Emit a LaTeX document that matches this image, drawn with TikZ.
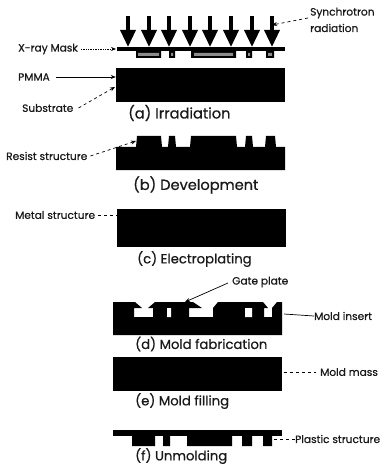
\documentclass[tikz,border=0pt]{standalone}
\usepackage{fontspec}
\setmainfont{Poppins}[BoldFont=Poppins,BoldFeatures={FakeBold=0.6}]
\usetikzlibrary{arrows.meta}
\tikzset{
  lab/.style={inner sep=0pt,font=\bfseries\fontsize{10.6}{12}\selectfont,text=black!90},
  capta/.style={inner sep=0pt,font=\bfseries\fontsize{14.6}{16}\selectfont,text=black!90,anchor=west},
  captb/.style={inner sep=0pt,font=\bfseries\fontsize{13.2}{15}\selectfont,text=black!90,anchor=west},
  solidpart/.style={fill=black,draw=none},
  lead/.style={line width=0.7pt,-{Stealth[length=5pt,width=4pt]}},
  plain/.style={line width=0.7pt},
  beam/.style={line width=3.4pt,-{Triangle[length=17pt,width=15pt]}},
}
\begin{document}
\begin{tikzpicture}[x=1pt,y=-1pt]
\useasboundingbox (0,0) rectangle (384,465);
% (a)
\foreach \i/\x in {1/128,2/149,3/169,4/190,5/210,6/231,7/252,8/272}{
  \coordinate (bs\i) at (\x,16);
  \coordinate (be\i) at (\x,47);
  \draw[beam] (bs\i) -- (be\i);
}
\fill[solidpart] (117,47) rectangle (285,51);
\fill[solidpart] (136,51) rectangle (161,58) (169,51) rectangle (175,58)
  (191,51) rectangle (236,58) (246,51) rectangle (252,58) (266,51) rectangle (274,58);
\fill[black!45] (138,53) rectangle (159,56) (171,53) rectangle (173,56)
  (194,53) rectangle (233,56) (248,53) rectangle (250,56) (268,53) rectangle (272,56);
\node[solidpart,minimum width=169pt,minimum height=34pt,inner sep=0pt] (pmma) at (200.5,85) {};
\node[lab,anchor=west] (mask) at (18,49) {X-ray Mask};
\coordinate (maskend) at (116,49);
\draw[lead,densely dotted] (mask.east) ++(3,0) -- (maskend);
\node[lab,anchor=west] (pm) at (18,77) {PMMA};
\draw[lead] (pm.east) ++(6,0) -- (pmma.west |- pm.east);
\node[lab,anchor=west] (sub) at (22,108) {Substrate};
\coordinate (subend) at (115,87);
\draw[lead,dashed] (sub.east) ++(5,0) -- (subend);
\node[lab,anchor=west] (syn) at (310,13) {Synchrotron};
\node[lab,anchor=west] (rad) at (310,28) {radiation};
\coordinate (synstart) at (308,18);
\coordinate (synend) at (272,25);
\draw[lead,dashed] (synstart) -- (synend);
\node[capta] (ca) at (128,113) {(a) Irradiation};
% (b)
\fill[solidpart] (116,170) -- (116,147) -- (136,147) -- (137,136) -- (161,136) -- (162,147)
  -- (168,147) -- (169,136) -- (175,136) -- (176,147) -- (190,147) -- (191,136) -- (236,136)
  -- (237,147) -- (245,147) -- (246,136) -- (252,136) -- (253,147) -- (265,147) -- (266,136)
  -- (275,136) -- (276,147) -- (285,147) -- (285,170) -- cycle;
\node[lab,anchor=west] (res) at (6,156) {Resist structure};
\coordinate (resend) at (136,141);
\draw[lead,dashed] (res.east) ++(3,0) -- (resend);
\node[capta] (cb) at (133,185) {(b) Development};
% (c)
\node[solidpart,minimum width=169pt,minimum height=38pt,inner sep=0pt] (metal) at (201.5,228) {};
\node[lab,anchor=west] (met) at (15,215) {Metal structure};
\draw[plain,dashed] (met.east) ++(3,0) -- (metal.west |- met.east);
\node[captb] (cc) at (137,259) {(c) Electroplating};
% (d)
\fill[solidpart] (113,335) -- (113,302) -- (135,302) -- (142,308) -- (134,308) -- (134,317)
  -- (153,317) -- (153,308) -- (148,308) -- (155,302) -- (193,302) -- (202,308) -- (189,308)
  -- (189,317) -- (213,317) -- (213,308) -- (218,302) -- (263,302) -- (268,308) -- (264,308)
  -- (264,317) -- (272,317) -- (272,308) -- (277,302) -- (282,302) -- (282,335) -- cycle;
\fill[white] (167,308) rectangle (171,317) (245,308) rectangle (252,317);
\node[lab,anchor=west] (gate) at (232,282) {Gate plate};
\coordinate (gateend) at (185,302);
\draw[plain,-{Stealth[length=5pt,width=4pt]}] (gate.west) ++(-4,1) -- (gateend);
\node[lab,anchor=west] (ins) at (314,316) {Mold insert};
\coordinate (insstart) at (284,314);
\draw[plain] (insstart) -- (ins.west);
\node[captb] (cd) at (135,344) {(d) Mold fabrication};
% (e)
\node[solidpart,minimum width=169pt,minimum height=34pt,inner sep=0pt] (massb) at (197.5,374) {};
\node[lab,anchor=west] (mass) at (320,372) {Mold mass};
\draw[plain,dashed] (massb.east |- mass.west) ++(2,0) -- ++(32,0);
\node[captb] (ce) at (135,401) {(e) Mold filling};
% (f)
\fill[solidpart] (113,430) rectangle (282,436);
\fill[solidpart] (132,436) rectangle (155,446) (163,436) rectangle (170,446)
  (187,436) rectangle (232,446) (242,436) rectangle (252,446) (263,436) rectangle (272,446);
\node[lab,anchor=west] (pl) at (295,439) {Plastic structure};
\coordinate (plstart) at (274,439);
\draw[plain,dashed] (plstart) -- (pl.west);
\node[captb] (cf) at (135,456) {(f) Unmolding};
\end{tikzpicture}
\end{document}
